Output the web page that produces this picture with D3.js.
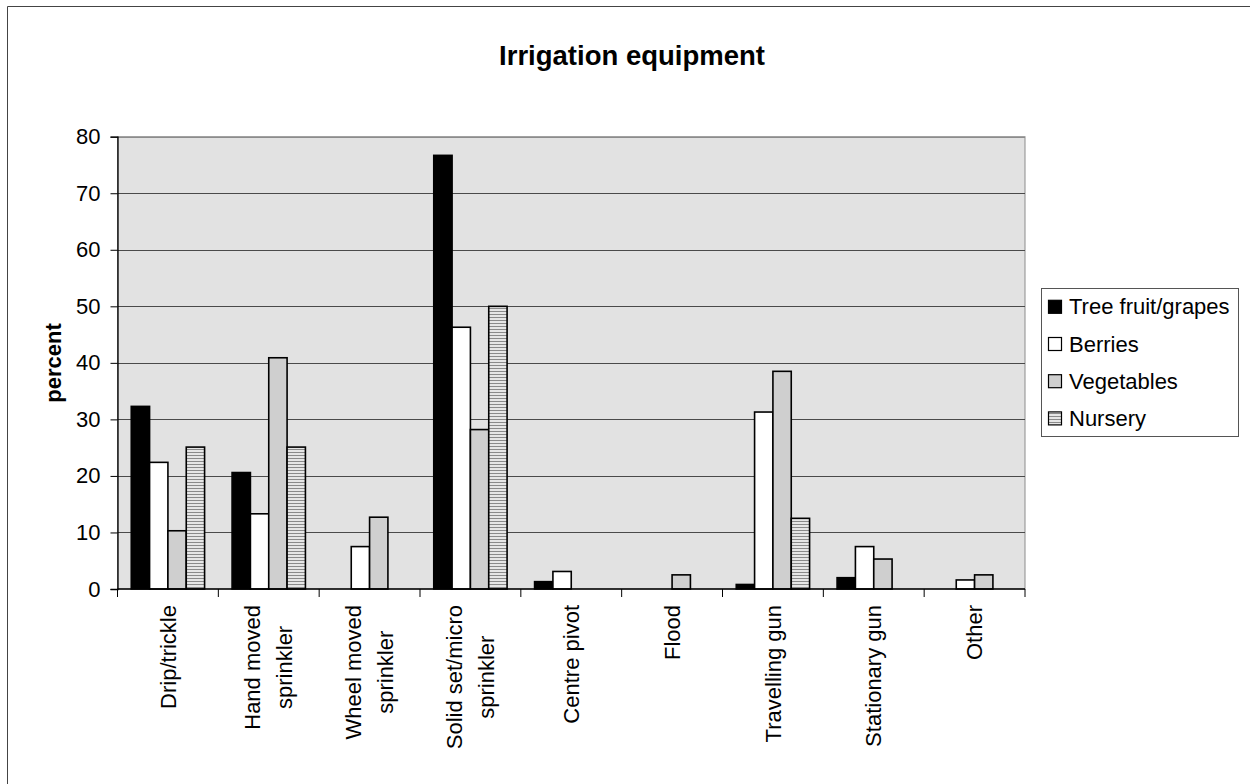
<!DOCTYPE html>
<html><head><meta charset="utf-8">
<script src="https://cdn.jsdelivr.net/npm/d3@7"></script>
<style>body{margin:0;background:#fff}svg{display:block;font-family:"Liberation Sans",Arial,sans-serif}</style>
</head><body><svg id="c" width="1250" height="784"></svg>
<script>
const categories = [["Drip/trickle"],["Hand moved","sprinkler"],["Wheel moved","sprinkler"],["Solid set/micro","sprinkler"],["Centre pivot"],["Flood"],["Travelling gun"],["Stationary gun"],["Other"]];
const seriesNames = ["Tree fruit/grapes","Berries","Vegetables","Nursery"];
const treeFruit = [32.3, 20.6, null, 76.7, 1.3, null, 0.8, 2.0, null];
const berries   = [22.4, 13.3, 7.5, 46.3, 3.1, null, 31.3, 7.5, 1.6];
const vegetables= [10.3, 40.9, 12.7, 28.2, null, 2.5, 38.5, 5.3, 2.5];
const nursery   = [25.1, 25.1, null, 50.0, null, null, 12.5, null, null];
const yTicks = [0,10,20,30,40,50,60,70,80];

const seriesValues = [treeFruit, berries, vegetables, nursery];
const fills = ["#000000","#ffffff","#cfcfcf","url(#stripes)"];
const svg = d3.select("#c");
const defs = svg.append("defs");
const pat = defs.append("pattern").attr("id","stripes").attr("patternUnits","userSpaceOnUse").attr("width",6).attr("height",3);
pat.append("rect").attr("width",6).attr("height",3).attr("fill","#e6e6e6");
pat.append("rect").attr("width",6).attr("height",1).attr("y",2).attr("fill","#8a8a8a");

// outer border
svg.append("path").attr("d","M7.5,800V6.5H1260").attr("fill","none").attr("stroke","#444").attr("stroke-width",1);

const L=117.5, R=1025, T=136.7, B=589;
const x0 = d3.scaleBand().domain(d3.range(categories.length)).range([L,R]).padding(0);
const bw = x0.bandwidth();
const pad = bw*0.75/5.5;
const x1 = d3.scaleBand().domain(d3.range(seriesNames.length)).range([pad, bw-pad]).padding(0);
const y = d3.scaleLinear().domain([0,80]).range([B,T]);

svg.append("rect").attr("x",L).attr("y",T).attr("width",R-L).attr("height",B-T).attr("fill","#e2e2e2").attr("stroke","#8c8c8c");
// gridlines
svg.append("g").selectAll("line").data(yTicks.filter(d=>d>0)).join("line")
  .attr("x1",L).attr("x2",R).attr("y1",d=>Math.round(y(d))+0.5).attr("y2",d=>Math.round(y(d))+0.5)
  .attr("stroke",d=>d===80?"#8c8c8c":"#4a4a4a").attr("stroke-width",1);

// bars
seriesValues.forEach((vals,si)=>{
  svg.append("g").selectAll("rect").data(vals.map((v,i)=>({v,i})).filter(d=>d.v!=null)).join("rect")
    .attr("x",d=>x0(d.i)+x1(si)).attr("width",x1.bandwidth())
    .attr("y",d=>y(d.v)).attr("height",d=>B-y(d.v))
    .attr("fill",fills[si]).attr("stroke","#000").attr("stroke-width",1.6);
});

// y axis
const ya = svg.append("g").attr("transform",`translate(${L},0)`)
  .call(d3.axisLeft(y).tickValues(yTicks).tickSize(7).tickPadding(10));
ya.select(".domain").attr("stroke","#000").attr("stroke-width",1.3);
ya.selectAll(".tick line").attr("stroke","#000");
ya.selectAll("text").attr("font-size",22).attr("fill","#000").attr("font-family","Liberation Sans, Arial, sans-serif");

// x axis
svg.append("line").attr("x1",L).attr("x2",R).attr("y1",B).attr("y2",B).attr("stroke","#000").attr("stroke-width",1.5);
svg.append("g").selectAll("line").data(d3.range(categories.length+1)).join("line")
  .attr("x1",d=>L+d*bw).attr("x2",d=>L+d*bw).attr("y1",B).attr("y2",B+8).attr("stroke","#000");

// category labels
const lab = svg.append("g").attr("font-size",22).attr("fill","#000");
categories.forEach((lines,i)=>{
  const cx = x0(i)+bw/2;
  const g = lab.append("g");
  const texts = lines.map((t,j)=>g.append("text").text(t));
  const maxW = d3.max(texts,t=>t.node().getComputedTextLength());
  const top = 605;
  const cy = top + maxW/2;
  texts.forEach((t,j)=>{
    const bx = cx + (j-(lines.length-1)/2)*32 + 7.7;
    t.attr("text-anchor","middle").attr("transform",`translate(${bx},${cy}) rotate(-90)`);
  });
});

// y label
svg.append("text").text("percent").attr("font-size",22).attr("font-weight","bold")
  .attr("text-anchor","middle").attr("transform","translate(61,363) rotate(-90)");

// title
svg.append("text").text("Irrigation equipment").attr("x",632).attr("y",65)
  .attr("font-size",27.5).attr("font-weight","bold").attr("text-anchor","middle");

// legend
const lg = svg.append("g");
lg.append("rect").attr("x",1041.5).attr("y",288.5).attr("width",197).attr("height",148).attr("fill","#fff").attr("stroke","#555");
seriesNames.forEach((n,i)=>{
  const by = 314.3 + i*37.2;
  lg.append("rect").attr("x",1048.5).attr("y",by-14).attr("width",13).attr("height",13)
    .attr("fill",fills[i]).attr("stroke","#000").attr("stroke-width",1.2);
  lg.append("text").text(n).attr("x",1069).attr("y",by).attr("font-size",22);
});
</script></body></html>
